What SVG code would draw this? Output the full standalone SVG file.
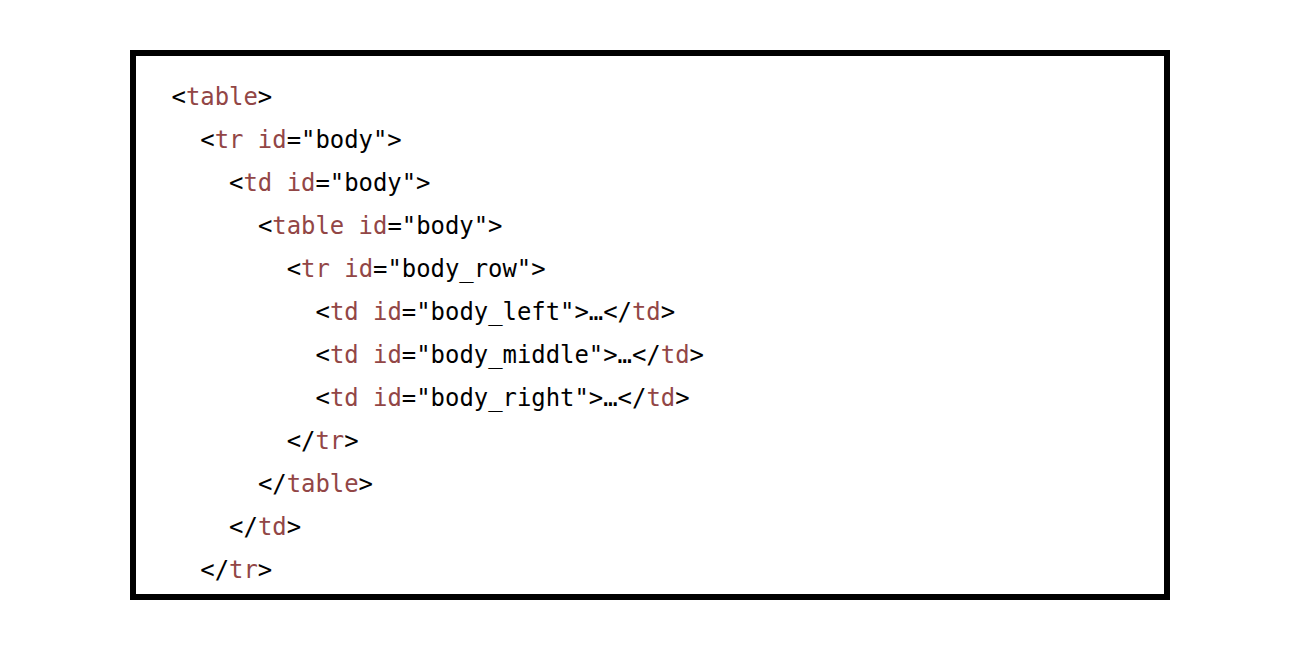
<svg xmlns="http://www.w3.org/2000/svg" width="1300" height="650" viewBox="0 0 1300 650">
<style>
text{font-family:"DejaVu Sans Mono","Liberation Mono",monospace;font-size:23.9px;fill:#000;white-space:pre}
.k{fill:#924646}
</style>
<rect width="1300" height="650" fill="#fff"/>
<g id="frame"><rect x="133" y="53" width="1034" height="544" fill="#fff" stroke="#000" stroke-width="6"/></g>
<g id="code">
<text x="171.5" y="105">&lt;<tspan class="k">table</tspan>&gt;</text>
<text x="200.3" y="148">&lt;<tspan class="k">tr</tspan> <tspan class="k">id</tspan>="body"&gt;</text>
<text x="229.1" y="191">&lt;<tspan class="k">td</tspan> <tspan class="k">id</tspan>="body"&gt;</text>
<text x="257.9" y="234">&lt;<tspan class="k">table</tspan> <tspan class="k">id</tspan>="body"&gt;</text>
<text x="286.7" y="277">&lt;<tspan class="k">tr</tspan> <tspan class="k">id</tspan>="body_row"&gt;</text>
<text x="315.5" y="320">&lt;<tspan class="k">td</tspan> <tspan class="k">id</tspan>="body_left"&gt;…&lt;/<tspan class="k">td</tspan>&gt;</text>
<text x="315.5" y="363">&lt;<tspan class="k">td</tspan> <tspan class="k">id</tspan>="body_middle"&gt;…&lt;/<tspan class="k">td</tspan>&gt;</text>
<text x="315.5" y="406">&lt;<tspan class="k">td</tspan> <tspan class="k">id</tspan>="body_right"&gt;…&lt;/<tspan class="k">td</tspan>&gt;</text>
<text x="286.7" y="449">&lt;/<tspan class="k">tr</tspan>&gt;</text>
<text x="257.9" y="492">&lt;/<tspan class="k">table</tspan>&gt;</text>
<text x="229.1" y="535">&lt;/<tspan class="k">td</tspan>&gt;</text>
<text x="200.3" y="578">&lt;/<tspan class="k">tr</tspan>&gt;</text>
</g>
</svg>
